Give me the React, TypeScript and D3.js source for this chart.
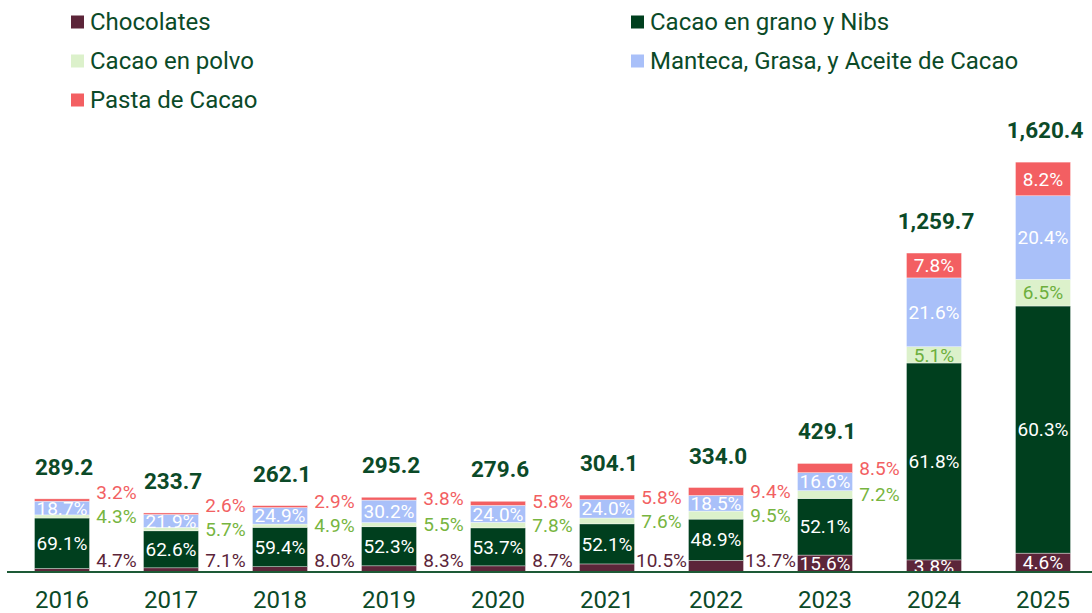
import React from "react";
import * as d3 from "d3";

const years = ["2016", "2017", "2018", "2019", "2020", "2021", "2022", "2023", "2024", "2025"];
const totals = [289.2, 233.7, 262.1, 295.2, 279.6, 304.1, 334.0, 429.1, 1259.7, 1620.4];
const seriesNames = [
  "Chocolates",
  "Cacao en grano y Nibs",
  "Cacao en polvo",
  "Manteca, Grasa, y Aceite de Cacao",
  "Pasta de Cacao",
];
const chocolates = [4.7, 7.1, 8.0, 8.3, 8.7, 10.5, 13.7, 15.6, 3.8, 4.6];
const granoNibs = [69.1, 62.6, 59.4, 52.3, 53.7, 52.1, 48.9, 52.1, 61.8, 60.3];
const polvo = [4.3, 5.7, 4.9, 5.5, 7.8, 7.6, 9.5, 7.2, 5.1, 6.5];
const manteca = [18.7, 21.9, 24.9, 30.2, 24.0, 24.0, 18.5, 16.6, 21.6, 20.4];
const pasta = [3.2, 2.6, 2.9, 3.8, 5.8, 5.8, 9.4, 8.5, 7.8, 8.2];

const shares = [chocolates, granoNibs, polvo, manteca, pasta];
const fills = ["#5c2539", "#003f1e", "#dcf1cb", "#a9c0f9", "#f35f62"];
const insideText = ["#ffffff", "#ffffff", "#6daf3d", "#ffffff", "#ffffff"];
const outsideText = ["#5c2539", "#003f1e", "#77b540", "#7f9be0", "#f26062"];
const dark = "#0b4a28";

const W = 1092;
const H = 613;
const baseY = 572;
const FONT = "Roboto, 'Noto Sans', sans-serif";

export default function App() {
  const x = d3
    .scaleBand<string>()
    .domain(years)
    .range([7.5, 1097.5])
    .paddingInner(0.495)
    .paddingOuter(0.2475);
  const y = d3.scaleLinear().domain([0, 1700]).range([baseY, 142]);

  const rows = years.map((yr, i) => {
    const r: any = { year: yr };
    shares.forEach((s, k) => (r["s" + k] = (s[i] / 100) * totals[i]));
    return r;
  });
  const stack = d3.stack<any>().keys(shares.map((_, k) => "s" + k));
  const layers = stack(rows);

  const bw = x.bandwidth();
  const step = x.step();

  const segs: any[] = [];
  const outside: any[] = [];
  years.forEach((yr, i) => {
    const x0 = x(yr)!;
    const cx = x0 + bw / 2;
    const outs: any[] = [];
    layers.forEach((layer, k) => {
      const d = layer[i];
      const y1 = y(d[1]);
      const y0 = y(d[0]);
      const h = y0 - y1;
      const label = shares[k][i].toFixed(1) + "%";
      const inside = h >= 11.8;
      segs.push({ key: yr + k, k, x: x0, y: y1, h, cx, cy: (y0 + y1) / 2, label, inside });
      if (!inside) outs.push({ k, label, target: (y0 + y1) / 2, cx: cx + step / 2 });
    });
    // resolve outside label positions bottom-up
    let prev = Infinity;
    outs.forEach((o, j) => {
      let yy = Math.min(o.target, 560);
      if (j > 0) yy = Math.min(yy, prev - 24);
      o.y = yy;
      prev = yy;
      outside.push({ ...o, key: yr + "o" + o.k });
    });
  });

  const legendItems = seriesNames.map((name, k) => ({
    name,
    color: fills[k],
    x: k % 2 === 0 ? 71 : 631,
    y: 22 + Math.floor(k / 2) * 39,
  }));

  return (
    <svg
      width={W}
      height={H}
      style={{ position: "absolute", left: 0, top: 0, display: "block", background: "#fff" }}
      fontFamily={FONT}
    >
      {legendItems.map((l) => (
        <g key={l.name}>
          <rect x={l.x} y={l.y - 6.5} width={13} height={13} fill={l.color} />
          <text x={l.x + 19} y={l.y} dy="0.35em" fontSize={24} fill={dark}>
            {l.name}
          </text>
        </g>
      ))}

      {segs.map((s) => (
        <rect
          key={s.key}
          x={s.x}
          y={s.y}
          width={bw}
          height={Math.max(0, s.h)}
          fill={fills[s.k]}
          stroke="#ffffff"
          strokeOpacity={0.6}
          strokeWidth={0.6}
        />
      ))}

      {segs
        .filter((s) => s.inside)
        .map((s) => (
          <text
            key={s.key + "t"}
            x={s.cx}
            y={s.cy}
            dy="0.35em"
            textAnchor="middle"
            fontSize={19}
            fill={insideText[s.k]}
          >
            {s.label}
          </text>
        ))}

      {outside.map((o) => (
        <text
          key={o.key}
          x={o.cx}
          y={o.y}
          dy="0.35em"
          textAnchor="middle"
          fontSize={19}
          fill={outsideText[o.k]}
        >
          {o.label}
        </text>
      ))}

      {years.map((yr, i) => (
        <text
          key={yr + "tot"}
          x={x(yr)! + bw / 2 + 2}
          y={y(totals[i]) - 24}
          textAnchor="middle"
          fontSize={22.5}
          fontWeight={700}
          fill={dark}
        >
          {d3.format(",.1f")(totals[i])}
        </text>
      ))}

      <line x1={7} x2={W} y1={baseY} y2={baseY} stroke="#1d5a36" strokeWidth={2} />

      {years.map((yr) => (
        <text
          key={yr + "ax"}
          x={x(yr)! + bw / 2}
          y={600}
          dy="0.35em"
          textAnchor="middle"
          fontSize={24}
          fill={dark}
        >
          {yr}
        </text>
      ))}
    </svg>
  );
}
